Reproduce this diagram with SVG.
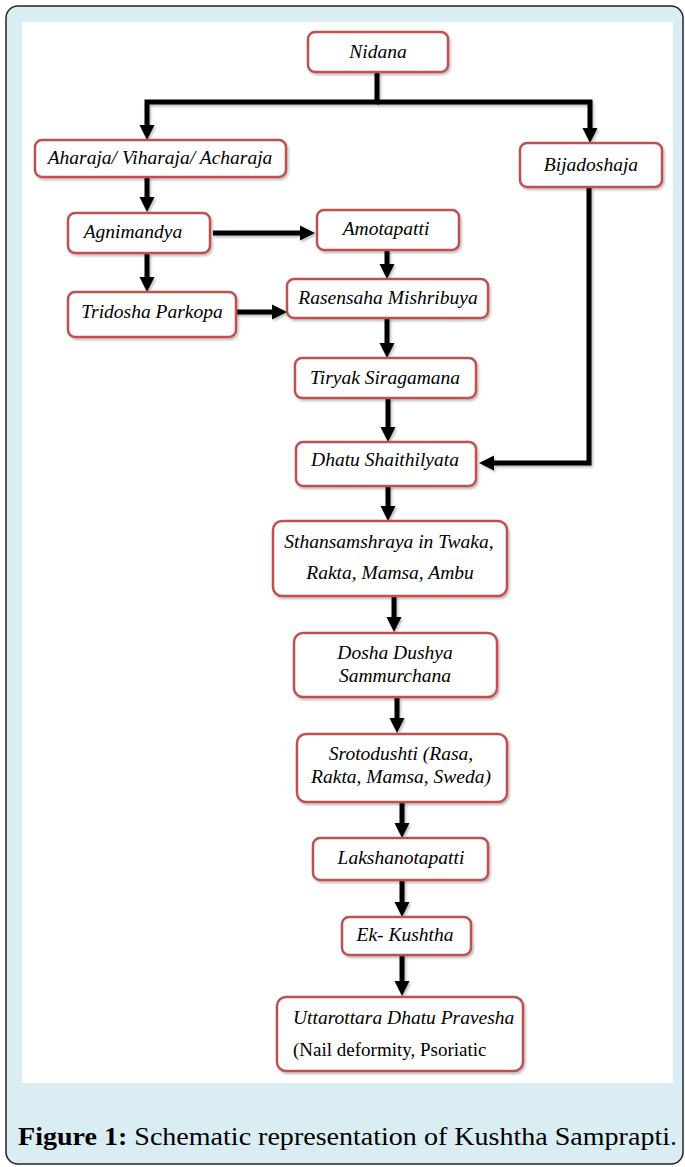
<svg xmlns="http://www.w3.org/2000/svg" width="685" height="1167" viewBox="0 0 685 1167">
<style>
.box{fill:#fff;stroke:#c0504d;stroke-width:2.5}
.t{font-family:"Liberation Serif",serif;font-style:italic;font-size:19.5px;fill:#000;text-anchor:middle}
.n{font-family:"Liberation Serif",serif;font-size:19px;fill:#000}
.c{fill:none;stroke:#000;stroke-width:5}
.cap{font-family:"Liberation Serif",serif;font-size:26px;fill:#000}
</style>
<defs>
<marker id="ah" markerUnits="userSpaceOnUse" markerWidth="16" markerHeight="16" refX="1" refY="8" orient="auto">
<path d="M0,0.5 L15,8 L0,15.5 z" fill="#000"/>
</marker>
<filter id="sh" x="-10%" y="-10%" width="120%" height="130%">
<feDropShadow dx="1.5" dy="2" stdDeviation="1.2" flood-color="#000" flood-opacity="0.25"/>
</filter>
</defs>
<rect x="6" y="6" width="677" height="1158" rx="12" fill="#d9edf2" stroke="#222" stroke-width="1.5"/>
<rect x="22" y="22" width="651" height="1061" fill="#fff"/>
<g id="connectors" marker-end="url(#ah)" filter="url(#sh)">
<path class="c" d="M377,72 V102 H147 V126"/>
<path class="c" d="M377,102 H590 V129"/>
<path class="c" d="M147,177 V198"/>
<path class="c" d="M213,233 H301"/>
<path class="c" d="M147,253 V278"/>
<path class="c" d="M387,250 V265"/>
<path class="c" d="M236,312 H273"/>
<path class="c" d="M387,318 V344"/>
<path class="c" d="M388,398 V428"/>
<path class="c" d="M589,187 V463 H493"/>
<path class="c" d="M388,486 V507"/>
<path class="c" d="M394,596 V618"/>
<path class="c" d="M397,697 V719"/>
<path class="c" d="M402,802 V824"/>
<path class="c" d="M402,880 V903"/>
<path class="c" d="M402,955 V982"/>
</g>
<g id="nidana"><rect class="box" filter="url(#sh)" x="308" y="32" width="140" height="40" rx="7"/><text class="t" x="378" y="58">Nidana</text></g>
<g id="aharaja"><rect class="box" filter="url(#sh)" x="35" y="140" width="251" height="37" rx="7"/><text class="t" x="160" y="164">Aharaja/ Viharaja/ Acharaja</text></g>
<g id="bijadoshaja"><rect class="box" filter="url(#sh)" x="520" y="143" width="142" height="44" rx="7"/><text class="t" x="591" y="171">Bijadoshaja</text></g>
<g id="agnimandya"><rect class="box" filter="url(#sh)" x="68" y="213" width="142" height="40" rx="7"/><text class="t" x="133" y="238">Agnimandya</text></g>
<g id="amotapatti"><rect class="box" filter="url(#sh)" x="317" y="210" width="142" height="40" rx="7"/><text class="t" x="386" y="235">Amotapatti</text></g>
<g id="tridosha"><rect class="box" filter="url(#sh)" x="68" y="292" width="168" height="45" rx="7"/><text class="t" x="152" y="318">Tridosha Parkopa</text></g>
<g id="rasensaha"><rect class="box" filter="url(#sh)" x="287" y="279" width="201" height="39" rx="7"/><text class="t" x="388" y="304">Rasensaha Mishribuya</text></g>
<g id="tiryak"><rect class="box" filter="url(#sh)" x="295" y="358" width="181" height="40" rx="7"/><text class="t" x="385" y="384">Tiryak Siragamana</text></g>
<g id="dhatu"><rect class="box" filter="url(#sh)" x="296" y="442" width="180" height="44" rx="7"/><text class="t" x="385" y="466">Dhatu Shaithilyata</text></g>
<g id="sthan"><rect class="box" filter="url(#sh)" x="273" y="521" width="234" height="75" rx="9"/><text class="t" x="389" y="548">Sthansamshraya in Twaka,</text><text class="t" x="390" y="579">Rakta, Mamsa, Ambu</text></g>
<g id="dosha"><rect class="box" filter="url(#sh)" x="294" y="633" width="203" height="64" rx="9"/><text class="t" x="395" y="659">Dosha Dushya</text><text class="t" x="395" y="682">Sammurchana</text></g>
<g id="sroto"><rect class="box" filter="url(#sh)" x="297" y="734" width="210" height="68" rx="9"/><text class="t" x="401" y="760">Srotodushti (Rasa,</text><text class="t" x="401" y="783">Rakta, Mamsa, Sweda)</text></g>
<g id="laksh"><rect class="box" filter="url(#sh)" x="313" y="838" width="175" height="42" rx="7"/><text class="t" x="401" y="864">Lakshanotapatti</text></g>
<g id="ek"><rect class="box" filter="url(#sh)" x="342" y="917" width="129" height="38" rx="7"/><text class="t" x="405" y="941">Ek- Kushtha</text></g>
<g id="uttarottara"><rect class="box" filter="url(#sh)" x="277" y="997" width="246" height="74" rx="9"/><text class="t" x="293" y="1024" style="text-anchor:start">Uttarottara Dhatu Pravesha</text><text class="n" x="293" y="1056">(Nail deformity, Psoriatic</text></g>
<text class="cap" x="18" y="1145" textLength="659" lengthAdjust="spacingAndGlyphs"><tspan font-weight="bold">Figure 1:</tspan> Schematic representation of Kushtha Samprapti.</text>
</svg>
